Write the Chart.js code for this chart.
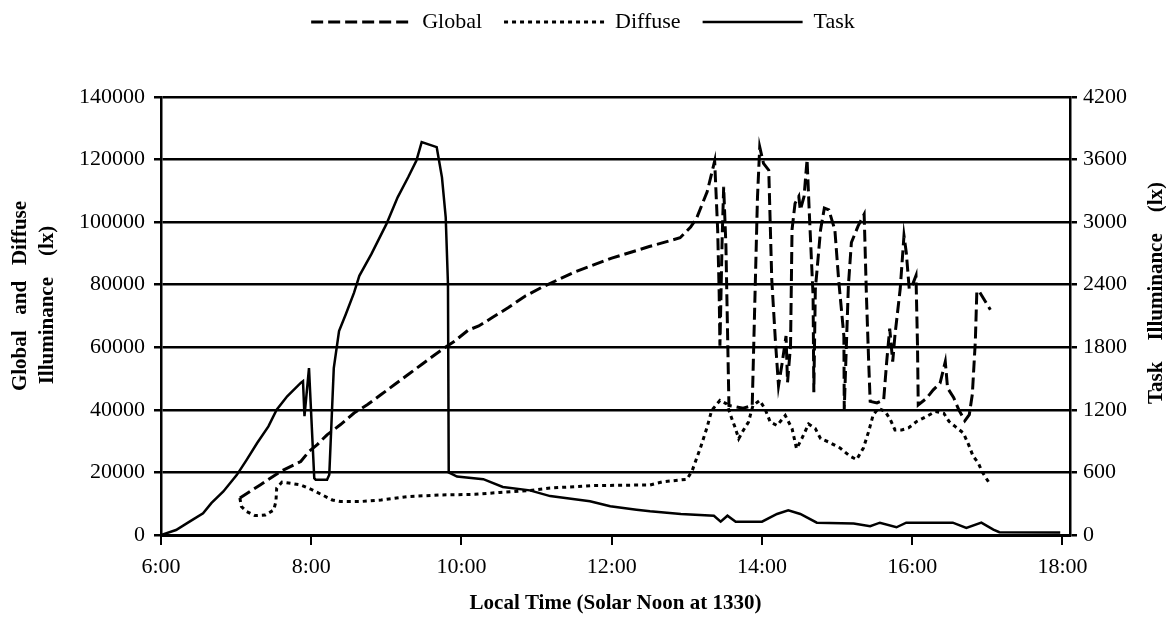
<!DOCTYPE html>
<html>
<head>
<meta charset="utf-8">
<script src="https://cdn.jsdelivr.net/npm/chart.js@4.4.1/dist/chart.umd.min.js"></script>
<style>
  html, body { margin: 0; padding: 0; background: #fff; }
  #wrap { width: 1166px; height: 617px; position: relative; }
</style>
</head>
<body>
<div id="wrap"><canvas id="illumChart"></canvas></div>
<script>
// hours of day (decimal) and lux
const globalTime = [7.05, 7.32, 7.59, 7.86, 7.97, 8.08, 8.21, 8.39, 8.57, 8.75, 8.93, 9.11, 9.29, 9.47, 9.65, 9.78, 9.91, 10.09, 10.23, 10.41, 10.63, 10.85, 11.08, 11.5, 12.0, 12.5, 12.91, 13.05, 13.13, 13.27, 13.37, 13.41, 13.43, 13.44, 13.47, 13.49, 13.52, 13.56, 13.65, 13.75, 13.87, 13.90, 13.94, 13.97, 14.02, 14.09, 14.13, 14.18, 14.22, 14.27, 14.32, 14.34, 14.38, 14.40, 14.44, 14.49, 14.51, 14.56, 14.60, 14.63, 14.68, 14.69, 14.71, 14.78, 14.83, 14.89, 14.97, 15.02, 15.09, 15.095, 15.15, 15.19, 15.28, 15.36, 15.39, 15.42, 15.44, 15.53, 15.62, 15.66, 15.70, 15.74, 15.77, 15.84, 15.89, 15.92, 15.96, 16.0, 16.05, 16.07, 16.08, 16.19, 16.28, 16.37, 16.44, 16.47, 16.55, 16.62, 16.7, 16.76, 16.8, 16.84, 16.86, 16.9, 17.04];
const globalLux = [11800, 16000, 20300, 23500, 26700, 28900, 32000, 35300, 39000, 41700, 44900, 48100, 51300, 54500, 57700, 59900, 62000, 65500, 66800, 69500, 72800, 76400, 79300, 84000, 88500, 92200, 95000, 98400, 101300, 109700, 119500, 97500, 77400, 60500, 95000, 111300, 92300, 41400, 41000, 40500, 41400, 70000, 108000, 124000, 118800, 116600, 81700, 61500, 47700, 55200, 63600, 48800, 60500, 97600, 106000, 108200, 103900, 108200, 120000, 102900, 76400, 45600, 78500, 97600, 104500, 103900, 97500, 81700, 63600, 40300, 79700, 93500, 98800, 102500, 76600, 55400, 42700, 42200, 43200, 55400, 66000, 55400, 63900, 78700, 95700, 90400, 78700, 79800, 82900, 60600, 41600, 43700, 46400, 48500, 55400, 47000, 44000, 40000, 36500, 38500, 45000, 62000, 78000, 77500, 72000];

const diffuseTime = [7.05, 7.07, 7.14, 7.25, 7.39, 7.50, 7.53, 7.54, 7.61, 7.70, 7.86, 7.99, 8.13, 8.28, 8.39, 8.66, 8.93, 9.29, 9.74, 10.18, 10.51, 10.91, 11.18, 11.75, 12.51, 12.68, 13.0, 13.07, 13.18, 13.27, 13.33, 13.44, 13.53, 13.60, 13.64, 13.69, 13.75, 13.82, 13.88, 13.97, 14.04, 14.11, 14.20, 14.31, 14.40, 14.46, 14.53, 14.62, 14.71, 14.78, 14.89, 15.04, 15.17, 15.26, 15.35, 15.42, 15.48, 15.55, 15.64, 15.71, 15.77, 15.86, 15.95, 16.06, 16.19, 16.31, 16.42, 16.49, 16.57, 16.68, 16.75, 16.81, 16.88, 16.93, 17.03];
const diffuseLux = [11800, 9100, 7500, 6200, 6400, 8000, 10700, 15000, 16900, 16600, 16000, 14700, 13000, 11200, 10700, 10700, 11200, 12300, 12800, 13000, 13600, 14200, 15000, 15800, 16000, 17000, 17800, 20500, 27800, 34500, 39800, 43000, 41900, 37100, 34500, 30800, 33400, 36100, 41400, 43000, 40300, 36100, 35000, 38200, 34000, 27600, 30800, 35500, 34000, 30800, 29700, 27800, 25200, 24100, 27800, 33100, 38400, 40500, 39500, 36800, 33600, 33600, 34200, 36300, 37900, 39500, 38900, 36300, 34700, 32600, 28900, 25200, 23000, 20200, 16400];

const taskTime = [6.0, 6.2, 6.38, 6.56, 6.67, 6.83, 7.01, 7.14, 7.28, 7.43, 7.54, 7.68, 7.86, 7.89, 7.91, 7.97, 8.04, 8.06, 8.21, 8.24, 8.30, 8.37, 8.46, 8.57, 8.64, 8.80, 9.00, 9.15, 9.29, 9.40, 9.47, 9.67, 9.74, 9.79, 9.82, 9.83, 9.94, 10.29, 10.55, 10.91, 11.18, 11.71, 11.98, 12.33, 12.51, 12.92, 13.36, 13.45, 13.54, 13.65, 14.0, 14.2, 14.35, 14.51, 14.73, 15.22, 15.44, 15.57, 15.79, 15.92, 16.54, 16.72, 16.92, 17.08, 17.16, 17.97];
const taskLux = [0, 48, 128, 208, 305, 417, 577, 721, 882, 1042, 1202, 1330, 1459, 1475, 1140, 1600, 545, 529, 529, 577, 1600, 1956, 2116, 2324, 2485, 2693, 2981, 3238, 3430, 3591, 3767, 3719, 3430, 3046, 2404, 600, 560, 535, 460, 428, 373, 324, 276, 243, 227, 202, 185, 128, 185, 128, 128, 202, 236, 202, 118, 111, 84, 118, 74, 118, 118, 67, 118, 51, 27, 25];

const hourTicks = [6, 8, 10, 12, 14, 16, 18];
const leftTicks = [0, 20000, 40000, 60000, 80000, 100000, 120000, 140000];
const rightTicks = [0, 600, 1200, 1800, 2400, 3000, 3600, 4200];

const pairs = (xs, ys) => xs.map((x, i) => ({ x: x, y: ys[i] }));

const serif = '"Liberation Serif", "Times New Roman", serif';

// push the plot area down below the legend
const legendGap = {
    id: 'legendGap',
    beforeInit(chart) {
        const fit = chart.legend.fit;
        chart.legend.fit = function () {
            fit.call(this);
            this.height = 108;
        };
    }
};

// both y titles read bottom-to-top, with the wide word gaps of the original
const axisTitles = {
    id: 'axisTitles',
    afterDraw(chart) {
        const { ctx } = chart;
        const put = (text, x, y) => {
            ctx.save();
            ctx.translate(x, y);
            ctx.rotate(-Math.PI / 2);
            ctx.fillText(text, 0, 0);
            ctx.restore();
        };
        ctx.save();
        ctx.font = 'bold 21px ' + serif;
        ctx.fillStyle = '#000';
        ctx.textAlign = 'center';
        ctx.textBaseline = 'middle';
        put('Global   and   Diffuse', 21, 296);
        put('Illuminance    (lx)', 48, 305);
        put('Task    Illuminance    (lx)', chart.width - 9, 293);
        ctx.restore();
    }
};

const ctx = document.getElementById('illumChart').getContext('2d');
const illumChart = new Chart(ctx, {
    type: 'line',
    data: {
        datasets: [{
            label: 'Global',
            data: pairs(globalTime, globalLux),
            yAxisID: 'y',
            borderColor: '#000',
            backgroundColor: '#000',
            borderWidth: 3,
            borderDash: [12, 5],
        }, {
            label: 'Diffuse',
            data: pairs(diffuseTime, diffuseLux),
            yAxisID: 'y',
            borderColor: '#000',
            backgroundColor: '#000',
            borderWidth: 3,
            borderDash: [4, 4],
        }, {
            label: 'Task',
            data: pairs(taskTime, taskLux),
            yAxisID: 'y1',
            borderColor: '#000',
            backgroundColor: '#000',
            borderWidth: 2.5,
        }]
    },
    options: {
        responsive: true,
        maintainAspectRatio: false,
        animation: false,
        parsing: false,
        elements: {
            point: { radius: 0, hoverRadius: 0 },
            line: { tension: 0, fill: false }
        },
        layout: { padding: { top: -11, left: 0, right: 0, bottom: 0 } },
        scales: {
            x: {
                type: 'linear',
                min: 6,
                max: 18.1,
                afterBuildTicks: (s) => { s.ticks = hourTicks.map(v => ({ value: v })); },
                afterFit: (s) => { s.height = 82; },
                ticks: {
                    color: '#000',
                    padding: 9,
                    font: { size: 22, family: serif },
                    callback: (v) => v + ':00'
                },
                grid: {
                    drawOnChartArea: false,
                    drawTicks: true,
                    tickLength: 10,
                    color: '#000',
                    lineWidth: 2,
                },
                border: { display: true, color: '#000', width: 3 },
                title: {
                    display: true,
                    text: 'Local Time (Solar Noon at 1330)',
                    color: '#000',
                    padding: { top: 0, bottom: 1 },
                    font: { size: 21, weight: 'bold', family: serif }
                }
            },
            y: {
                position: 'left',
                min: 0,
                max: 140000,
                afterBuildTicks: (s) => { s.ticks = leftTicks.map(v => ({ value: v })); },
                afterFit: (s) => { s.width = 161; },
                ticks: {
                    color: '#000',
                    padding: 9,
                    font: { size: 22, family: serif },
                    callback: (v) => String(v)
                },
                grid: {
                    color: '#000',
                    lineWidth: 2.5,
                    tickLength: 7,
                },
                border: { display: true, color: '#000', width: 2.5 }
            },
            y1: {
                position: 'right',
                min: 0,
                max: 4200,
                afterBuildTicks: (s) => { s.ticks = rightTicks.map(v => ({ value: v })); },
                afterFit: (s) => { s.width = 96; },
                ticks: {
                    color: '#000',
                    padding: 6,
                    font: { size: 22, family: serif },
                    callback: (v) => String(v)
                },
                grid: {
                    drawOnChartArea: false,
                    color: '#000',
                    lineWidth: 2.5,
                    tickLength: 7,
                },
                border: { display: true, color: '#000', width: 2.5 }
            }
        },
        plugins: {
            tooltip: { enabled: false },
            legend: {
                position: 'top',
                labels: {
                    usePointStyle: true,
                    pointStyle: 'line',
                    pointStyleWidth: 100,
                    boxHeight: 10,
                    padding: 22,
                    color: '#000',
                    font: { size: 22, family: serif },
                    // keep each series' dash pattern in its legend line
                    generateLabels: (chart) => chart.data.datasets.map((d, i) => ({
                        text: d.label,
                        fillStyle: '#000',
                        strokeStyle: '#000',
                        fontColor: '#000',
                        lineWidth: d.borderWidth,
                        lineDash: d.borderDash || [],
                        lineCap: 'butt',
                        pointStyle: 'line',
                        hidden: false,
                        datasetIndex: i
                    }))
                }
            }
        }
    },
    plugins: [legendGap, axisTitles]
});
</script>
</body>
</html>
